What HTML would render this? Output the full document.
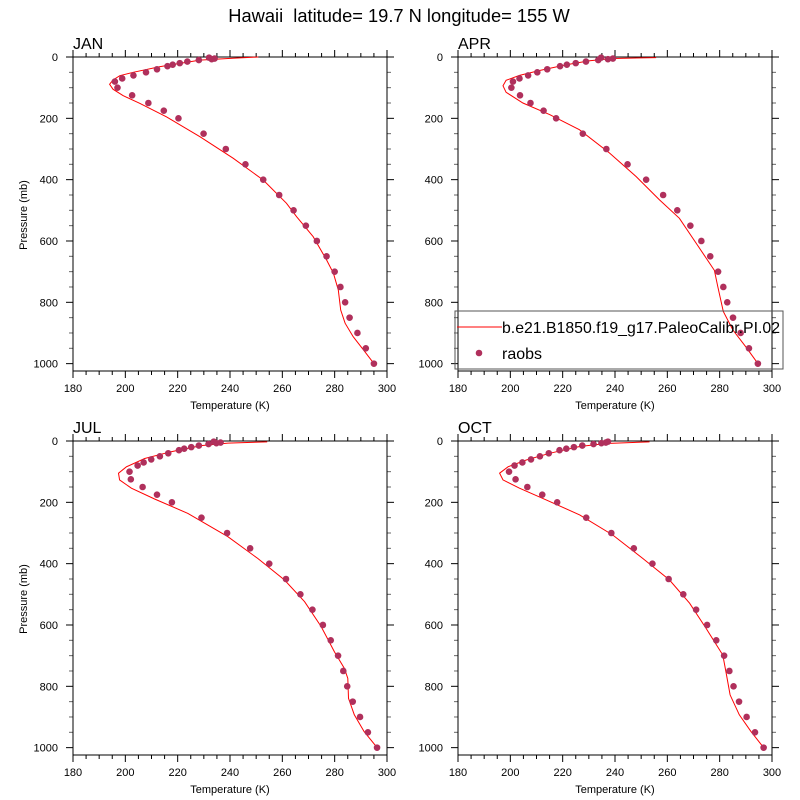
<!DOCTYPE html>
<html><head><meta charset="utf-8"><style>
body{margin:0;background:#fff;}
svg{display:block;font-family:"Liberation Sans",sans-serif;}
</style></head><body>
<svg id="chart" width="800" height="800" viewBox="0 0 800 800" xmlns="http://www.w3.org/2000/svg">
<rect width="800" height="800" fill="#fff"/>
<text x="399" y="22" font-size="18.3" text-anchor="middle">Hawaii&#160; latitude= 19.7 N longitude= 155 W</text>
</svg>
<script>
const xTicks=[180,200,220,240,260,280,300];
const yTicks=[0,200,400,600,800,1000];
const panelNames=["JAN","APR","JUL","OCT"];
const obsLevels=[2,5,7,10,15,20,25,30,40,50,60,70,80,100,125,150,175,200,250,300,350,400,450,500,550,600,650,700,750,800,850,900,950,1000];
const obsJAN=[232,234.1,233,228.1,223.7,220.8,218.1,216.1,212.1,207.9,203.1,198.8,196,197,202.6,208.8,214.7,220.3,229.9,238.4,245.9,252.7,258.8,264.3,269,273.2,276.9,280,282.2,284,285.7,288.7,291.9,295];
const obsAPR=[234.7,239.2,237.3,233.6,228.9,225,221.6,219,214.1,210.3,206.8,203.5,201,200.4,203.7,207.7,212.7,217.5,227.7,236.7,244.8,251.9,258.4,263.8,268.8,273,276.4,279.4,281.4,282.9,285.1,288,291.2,294.6];
const obsJUL=[233.8,236.4,234.8,231.8,228.1,225.2,222.5,220.5,216.4,213.2,209.9,207,204.7,201.6,202.1,206.6,212.1,217.8,229.1,238.9,247.7,255,261.4,266.9,271.5,275.5,278.5,281.3,283.3,284.8,286.9,289.7,292.7,296.2];
const obsOCT=[237.3,236.5,234.8,231.8,227.5,224.3,221.4,218.8,214.7,211.3,207.9,204.6,201.6,199.5,202,206.5,212.2,217.9,229,238.6,247.2,254.3,260.5,266.1,271,275.2,278.7,281.7,283.7,285.3,287.4,290.3,293.5,296.8];
const modP_JAN=[0,4,10,32,50,61,75,89,105,126,151,195,260,330,401,477,521,586,662,705,760,825,868,912,955,1000];
const modT_JAN=[250.8,241,228.5,213,203,197.9,195.3,194,195.3,199.1,205.5,215.7,228.5,241.2,252.7,261.6,265.5,271.8,276.9,279.5,281.4,282.3,284,287.1,291,295];
const modP_APR=[2,5,12,25,44,60,76,94,115,150,188,237,313,390,466,526,607,696,749,830,890,945,1000];
const modT_APR=[255.7,239.2,230.3,221.4,211.2,203.5,198.4,197.2,198.4,204.8,215,226.4,237.9,248.1,257,264.6,271,278,279.3,281.4,285,290,294.6];
const modP_JUL=[3,7,15,35,57,84,105,127,154,189,236,312,383,453,524,605,687,741,774,839,893,948,1000];
const modT_JUL=[254.2,239.2,229,217.5,207.4,200.4,197.4,197.8,202.3,211.2,223.9,239.2,250.6,260.8,268.5,274.8,279.9,283.7,285,285.3,287.5,291.3,296.2];
const modP_OCT=[3,8,18,40,62,84,105,127,154,192,241,307,383,453,529,611,698,752,828,893,948,1000];
const modT_OCT=[253.2,236.6,226.5,215,206.1,199.1,195.9,197.2,203.5,213.7,226.5,239.2,250.6,260.8,268.5,274.8,281.2,282.4,284,287.5,292,296.8];

const NS="http://www.w3.org/2000/svg";
const svg=document.getElementById('chart');
function mk(tag,attrs,parent){const e=document.createElementNS(NS,tag);for(const k in attrs)e.setAttribute(k,attrs[k]);(parent||svg).appendChild(e);return e;}
const W=314,H=314,XMIN=180,XMAX=300,YMAX=1024;
const panels=[{x:73,y:57,obs:obsJAN,mp:modP_JAN,mt:modT_JAN,yl:true},
{x:458,y:57,obs:obsAPR,mp:modP_APR,mt:modT_APR,yl:false},
{x:73,y:441,obs:obsJUL,mp:modP_JUL,mt:modT_JUL,yl:true},
{x:458,y:441,obs:obsOCT,mp:modP_OCT,mt:modT_OCT,yl:false}];
panels.forEach((p,i)=>{
  const g=mk('g',{});
  
  
  const sx=t=>p.x+(t-XMIN)/(XMAX-XMIN)*W;
  const sy=v=>p.y+v/YMAX*H;
  const t=mk('text',{x:p.x,y:p.y-8,'font-size':16},g);t.textContent=panelNames[i];
  
  for(let v=XMIN;v<=XMAX;v+=5){const X=sx(v);const maj=(v%20===0);const L=maj?7:4;
    mk('line',{x1:X,x2:X,y1:p.y,y2:p.y-L,stroke:'#000','stroke-width':1},g);
    mk('line',{x1:X,x2:X,y1:p.y+H,y2:p.y+H+L,stroke:'#000','stroke-width':1},g);}
  for(let v=0;v<=1000;v+=50){const Y=sy(v);const maj=(v%200===0);const L=maj?7:4;
    mk('line',{x1:p.x,x2:p.x-L,y1:Y,y2:Y,stroke:maj?'#000':'#666','stroke-width':1},g);
    mk('line',{x1:p.x+W,x2:p.x+W+L,y1:Y,y2:Y,stroke:maj?'#000':'#666','stroke-width':1},g);}
  xTicks.forEach(v=>{const e=mk('text',{x:sx(v),y:p.y+H+21,'font-size':11,'text-anchor':'middle'},g);e.textContent=v;
    });
  yTicks.forEach(v=>{const e=mk('text',{x:p.x-15,y:sy(v)+4,'font-size':11,'text-anchor':'end'},g);e.textContent=v;
    });
  const xt=mk('text',{x:p.x+W/2,y:p.y+H+38,'font-size':11,'text-anchor':'middle'},g);xt.textContent='Temperature (K)';
  
  if(p.yl){const yt=mk('text',{x:0,y:0,'font-size':11,'text-anchor':'middle',transform:`translate(27,${p.y+158}) rotate(-90)`},g);yt.textContent='Pressure (mb)';
    }
  const box=mk('rect',{x:p.x,y:p.y,width:W,height:H,fill:'none',stroke:'#000','stroke-width':1},g);
  
  const pts=p.mp.map((v,k)=>sx(p.mt[k]).toFixed(1)+','+sy(v).toFixed(1)).join(' ');
  const ln=mk('polyline',{points:pts,fill:'none',stroke:'#ff0000','stroke-width':1},g);
  
  obsLevels.forEach((lv,k)=>{const c=mk('circle',{cx:sx(p.obs[k]),cy:sy(lv),r:3.3,fill:'#b0305c'},g);
    });
});
const lg=mk('g',{});


mk('rect',{x:455,y:311,width:328,height:58,fill:'none',stroke:'#555','stroke-width':1},lg);
mk('line',{x1:457,x2:502,y1:327,y2:327,stroke:'#ff0000','stroke-width':1},lg);
const l1=mk('text',{x:502,y:333,'font-size':16,textLength:278,lengthAdjust:'spacingAndGlyphs'},lg);l1.textContent='b.e21.B1850.f19_g17.PaleoCalibr.PI.02';

mk('circle',{cx:479,cy:353,r:3.3,fill:'#b0305c'},lg);
const l2=mk('text',{x:502,y:359,'font-size':16},lg);l2.textContent='raobs';

</script>
</body></html>
